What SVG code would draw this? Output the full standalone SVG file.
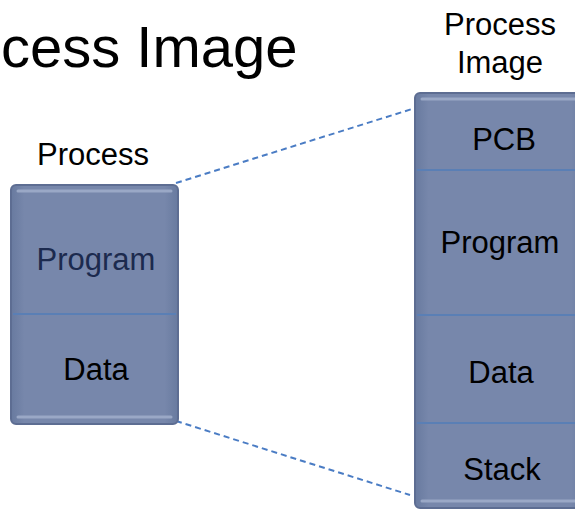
<svg xmlns="http://www.w3.org/2000/svg" width="575" height="510" viewBox="0 0 575 510">
<style>
text{font-family:"Liberation Sans",Arial,sans-serif;fill:#000;text-anchor:middle}
.lbl{font-size:31px}
.box{fill:url(#g);stroke:#5d6d92;stroke-width:2}
.bev{fill:none;stroke:#9aa8c6;stroke-width:3;stroke-linecap:round}
.div{stroke:#5a7fb5;stroke-width:2}
.conn{stroke:#4a7cc4;stroke-width:2;stroke-dasharray:6 4;fill:none}
</style>
<defs>
<linearGradient id="g" x1="0" y1="0" x2="1" y2="0">
<stop offset="0" stop-color="#687a9f"/>
<stop offset="0.08" stop-color="#7787ab"/>
<stop offset="0.92" stop-color="#7787ab"/>
<stop offset="1" stop-color="#687a9f"/>
</linearGradient>
</defs>
<rect width="575" height="510" fill="#fff"/>
<g id="title">
<text x="1" y="67" style="font-size:58px;text-anchor:start">cess Image</text>
</g>
<g id="connectors">
<line class="conn" x1="176" y1="183" x2="412" y2="109"/>
<line class="conn" x1="176" y1="421" x2="410" y2="495"/>
</g>
<g id="process">
<text class="lbl" x="93" y="165">Process</text>
<rect class="box" x="11" y="185" width="167" height="239" rx="5"/>
<line class="bev" x1="18" y1="191" x2="171" y2="191"/>
<line class="bev" x1="18" y1="417" x2="171" y2="417"/>
<line class="div" x1="13" y1="314" x2="176" y2="314"/>
<text class="lbl" x="96" y="270" style="fill:#1c2a4e">Program</text>
<text class="lbl" x="96" y="380">Data</text>
</g>
<g id="image">
<text class="lbl" x="500" y="35">Process</text>
<text class="lbl" x="500" y="73">Image</text>
<rect class="box" x="415" y="93" width="170" height="415" rx="5"/>
<line class="bev" x1="422" y1="99" x2="580" y2="99"/>
<line class="bev" x1="422" y1="501" x2="580" y2="501"/>
<line class="div" x1="417" y1="170" x2="575" y2="170"/>
<line class="div" x1="417" y1="315" x2="575" y2="315"/>
<line class="div" x1="417" y1="423" x2="575" y2="423"/>
<text class="lbl" x="504" y="150">PCB</text>
<text class="lbl" x="500" y="253">Program</text>
<text class="lbl" x="501" y="383">Data</text>
<text class="lbl" x="502" y="480">Stack</text>
</g>
</svg>
